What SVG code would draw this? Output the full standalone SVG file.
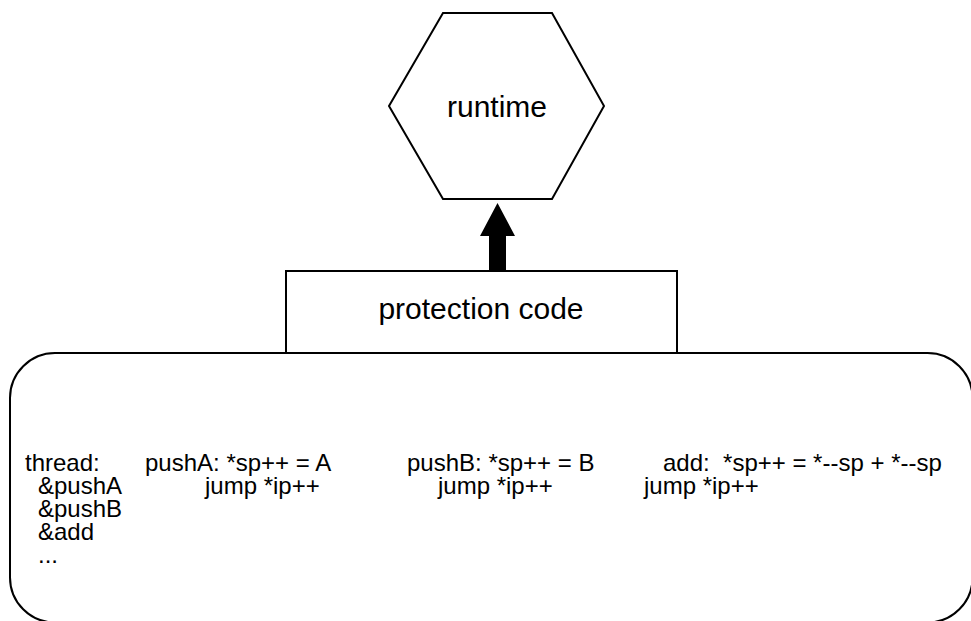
<svg xmlns="http://www.w3.org/2000/svg" width="971" height="621" viewBox="0 0 971 621">
<style>
.shape{fill:#fff;stroke:#000;stroke-width:2}
.big{font-family:"Liberation Sans",Arial,sans-serif;font-size:30px;fill:#000}
.code{font-family:"Liberation Sans",Arial,sans-serif;font-size:24px;fill:#000;white-space:pre}
</style>
<rect width="971" height="621" fill="#fff"/>
<g id="connectors">
<polygon points="489,271 489,236 480,236 497.5,203 515,236 506,236 506,271" fill="#000"/>
</g>
<g id="runtime">
<polygon class="shape" points="443,13 552,13 604,106 552,199 443,199 389,106"/>
<text class="big" x="497" y="117" text-anchor="middle">runtime</text>
</g>
<g id="protection">
<rect class="shape" x="286" y="271" width="391" height="82"/>
<text class="big" x="481" y="319" text-anchor="middle">protection code</text>
</g>
<g id="thread">
<rect class="shape" x="10" y="353" width="962.5" height="269.5" rx="45" ry="45"/>
<text class="code" x="25" y="471">thread:</text>
<text class="code" x="38" y="494">&amp;pushA</text>
<text class="code" x="38" y="517">&amp;pushB</text>
<text class="code" x="38" y="540">&amp;add</text>
<text class="code" x="38" y="563">...</text>
<text class="code" x="145" y="471">pushA: *sp++ = A</text>
<text class="code" x="205" y="494">jump *ip++</text>
<text class="code" x="407" y="471">pushB: *sp++ = B</text>
<text class="code" x="438" y="494">jump *ip++</text>
<text class="code" x="663" y="471" xml:space="preserve">add:  *sp++ = *--sp + *--sp</text>
<text class="code" x="644" y="494">jump *ip++</text>
</g>
</svg>
